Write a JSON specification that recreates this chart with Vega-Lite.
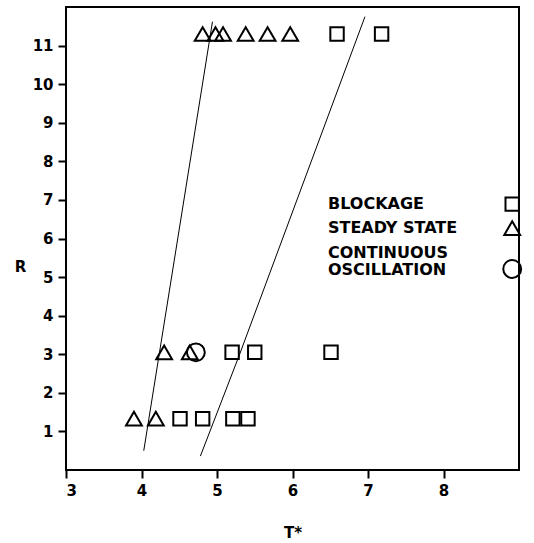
{
  "$schema": "https://vega.github.io/schema/vega-lite/v6.json",
  "width": 453,
  "height": 463,
  "autosize": {"type": "none"},
  "padding": {"left": 66, "top": 7, "right": 15, "bottom": 73},
  "background": "white",
  "config": {
    "view": {"stroke": "black", "strokeWidth": 2},
    "axis": {
      "grid": false,
      "domain": false,
      "ticks": true,
      "tickColor": "black",
      "tickWidth": 2,
      "tickSize": 8,
      "labelFont": "DejaVu Sans",
      "labelFontWeight": "bold",
      "labelFontSize": 15,
      "labelColor": "black",
      "titleFont": "DejaVu Sans",
      "titleFontWeight": "bold",
      "titleFontSize": 15,
      "titleColor": "black"
    }
  },
  "datasets": {
    "points": [
      {"type": "Steady state", "T": 4.81, "R": 11.3},
      {"type": "Steady state", "T": 4.98, "R": 11.3},
      {"type": "Steady state", "T": 5.08, "R": 11.3},
      {"type": "Steady state", "T": 5.38, "R": 11.3},
      {"type": "Steady state", "T": 5.67, "R": 11.3},
      {"type": "Steady state", "T": 5.97, "R": 11.3},
      {"type": "Blockage", "T": 6.59, "R": 11.3},
      {"type": "Blockage", "T": 7.18, "R": 11.3},
      {"type": "Steady state", "T": 4.3, "R": 3.05},
      {"type": "Steady state", "T": 4.64, "R": 3.05},
      {"type": "Continuous oscillation", "T": 4.72, "R": 3.05},
      {"type": "Blockage", "T": 5.2, "R": 3.05},
      {"type": "Blockage", "T": 5.5, "R": 3.05},
      {"type": "Blockage", "T": 6.51, "R": 3.05},
      {"type": "Steady state", "T": 3.9, "R": 1.33},
      {"type": "Steady state", "T": 4.19, "R": 1.33},
      {"type": "Blockage", "T": 4.51, "R": 1.33},
      {"type": "Blockage", "T": 4.81, "R": 1.33},
      {"type": "Blockage", "T": 5.21, "R": 1.33},
      {"type": "Blockage", "T": 5.41, "R": 1.33}
    ],
    "lines": [
      {"line": "A", "T": 4.03, "R": 0.5},
      {"line": "A", "T": 4.94, "R": 11.62},
      {"line": "B", "T": 4.78, "R": 0.36},
      {"line": "B", "T": 5.3, "R": 3.0},
      {"line": "B", "T": 6.96, "R": 11.75}
    ],
    "legend": [
      {"type": "Blockage", "label": "BLOCKAGE", "T": 6.47, "R": 6.89, "symR": 6.89},
      {"type": "Steady state", "label": "STEADY STATE", "T": 6.47, "R": 6.27, "symR": 6.27},
      {"type": "Continuous oscillation", "label": "CONTINUOUS\nOSCILLATION", "T": 6.47, "R": 5.63, "symR": 5.21}
    ]
  },
  "encoding": {
    "x": {
      "field": "T",
      "type": "quantitative",
      "scale": {"domain": [3, 9], "nice": false, "zero": false},
      "axis": {"values": [3, 4, 5, 6, 7, 8], "title": "T*", "labelPadding": 5, "titlePadding": 27}
    },
    "y": {
      "field": "R",
      "type": "quantitative",
      "scale": {"domain": [0, 12], "nice": false},
      "axis": {"values": [1, 2, 3, 4, 5, 6, 7, 8, 9, 10, 11], "title": "R", "titleAngle": 0, "titleX": -46, "titleY": 267, "labelPadding": 5}
    }
  },
  "layer": [
    {
      "data": {"name": "lines"},
      "mark": {"type": "line", "color": "black", "strokeWidth": 1},
      "encoding": {"detail": {"field": "line"}}
    },
    {
      "data": {"name": "points"},
      "mark": {"type": "point", "filled": false, "stroke": "black", "strokeWidth": 2, "opacity": 1},
      "encoding": {
        "shape": {
          "field": "type",
          "type": "nominal",
          "scale": {"domain": ["Blockage", "Steady state", "Continuous oscillation"], "range": ["square", "triangle-up", "circle"]},
          "legend": null
        },
        "size": {
          "field": "type",
          "type": "nominal",
          "scale": {"domain": ["Blockage", "Steady state", "Continuous oscillation"], "range": [180, 320, 180]},
          "legend": null
        }
      }
    },
    {
      "data": {"name": "legend"},
      "mark": {"type": "text", "align": "left", "baseline": "middle", "font": "DejaVu Sans", "fontWeight": "bold", "fontSize": 16, "lineBreak": "\n", "lineHeight": 17, "color": "black"},
      "encoding": {"text": {"field": "label"}}
    },
    {
      "data": {"name": "legend"},
      "mark": {"type": "point", "filled": false, "stroke": "black", "strokeWidth": 2, "opacity": 1},
      "encoding": {
        "x": {"datum": 8.91, "type": "quantitative"},
        "y": {"field": "symR", "type": "quantitative"},
        "shape": {
          "field": "type",
          "type": "nominal",
          "scale": {"domain": ["Blockage", "Steady state", "Continuous oscillation"], "range": ["square", "triangle-up", "circle"]},
          "legend": null
        },
        "size": {
          "field": "type",
          "type": "nominal",
          "scale": {"domain": ["Blockage", "Steady state", "Continuous oscillation"], "range": [180, 320, 180]},
          "legend": null
        }
      }
    }
  ]
}
